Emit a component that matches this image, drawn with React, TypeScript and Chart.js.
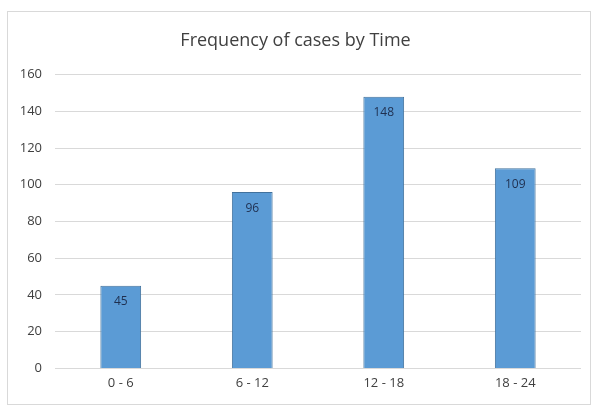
import React, { useEffect, useRef } from "react";
import { Chart, registerables } from "chart.js";

Chart.register(...registerables);

const categories = ["0 - 6", "6 - 12", "12 - 18", "18 - 24"];
const cases = [45, 96, 148, 109];
const yTicks = [0, 20, 40, 60, 80, 100, 120, 140, 160];
const chartTitle = "Frequency of cases by Time";

const FONT = "'Open Sans', 'Liberation Sans', sans-serif";

// Writes each bar's value just inside its top edge
const valueLabels = {
  id: "valueLabels",
  afterDatasetsDraw(chart: any) {
    const ctx = chart.ctx;
    const meta = chart.getDatasetMeta(0);
    ctx.save();
    ctx.font = `12px ${FONT}`;
    ctx.fillStyle = "#1f2f4f";
    ctx.textAlign = "center";
    ctx.textBaseline = "middle";
    meta.data.forEach((bar: any, i: number) => {
      ctx.fillText(String(cases[i]), bar.x, bar.y + 16);
    });
    ctx.restore();
  },
};

export default function App() {
  const ref = useRef<HTMLCanvasElement>(null);

  useEffect(() => {
    if (!ref.current) return;
    const chart = new Chart(ref.current, {
      type: "bar",
      data: {
        labels: categories,
        datasets: [
          {
            data: cases,
            backgroundColor: "#5b9bd5",
            borderColor: "#41719c",
            borderWidth: 1,
            categoryPercentage: 1,
            barPercentage: 0.31,
          },
        ],
      },
      options: {
        responsive: false,
        animation: false,
        layout: { padding: { left: 10, right: 15, top: 0, bottom: 9 } },
        plugins: {
          legend: { display: false },
          tooltip: { enabled: false },
          title: {
            display: true,
            text: chartTitle,
            color: "#404040",
            font: { family: FONT, size: 18, weight: "normal" },
            padding: { top: 30, bottom: 23 },
          },
        },
        scales: {
          x: {
            grid: { display: false, drawTicks: false },
            border: { display: false },
            ticks: {
              color: "#404040",
              font: { family: FONT, size: 13 },
              padding: 7,
            },
          },
          y: {
            min: 0,
            max: 160,
            afterBuildTicks(scale: any) {
              scale.ticks = yTicks.map((v) => ({ value: v }));
            },
            grid: { color: "#d9d9d9", lineWidth: 1, drawTicks: false },
            border: { display: false },
            ticks: {
              color: "#404040",
              font: { family: FONT, size: 13 },
              padding: 13,
            },
            afterFit(scale: any) {
              scale.width = 45;
            },
          },
        },
      },
      plugins: [valueLabels],
    });
    return () => chart.destroy();
  }, []);

  return (
    <div style={{ position: "fixed", left: 0, top: 0, width: 596, height: 407, background: "#fff" }}>
      <div
        style={{
          position: "absolute",
          left: 7,
          top: 11,
          width: 584,
          height: 394,
          border: "1px solid #d9d9d9",
          boxSizing: "border-box",
        }}
      />
      <canvas ref={ref} width={596} height={407} style={{ position: "absolute", left: 0, top: 0 }} />
    </div>
  );
}
